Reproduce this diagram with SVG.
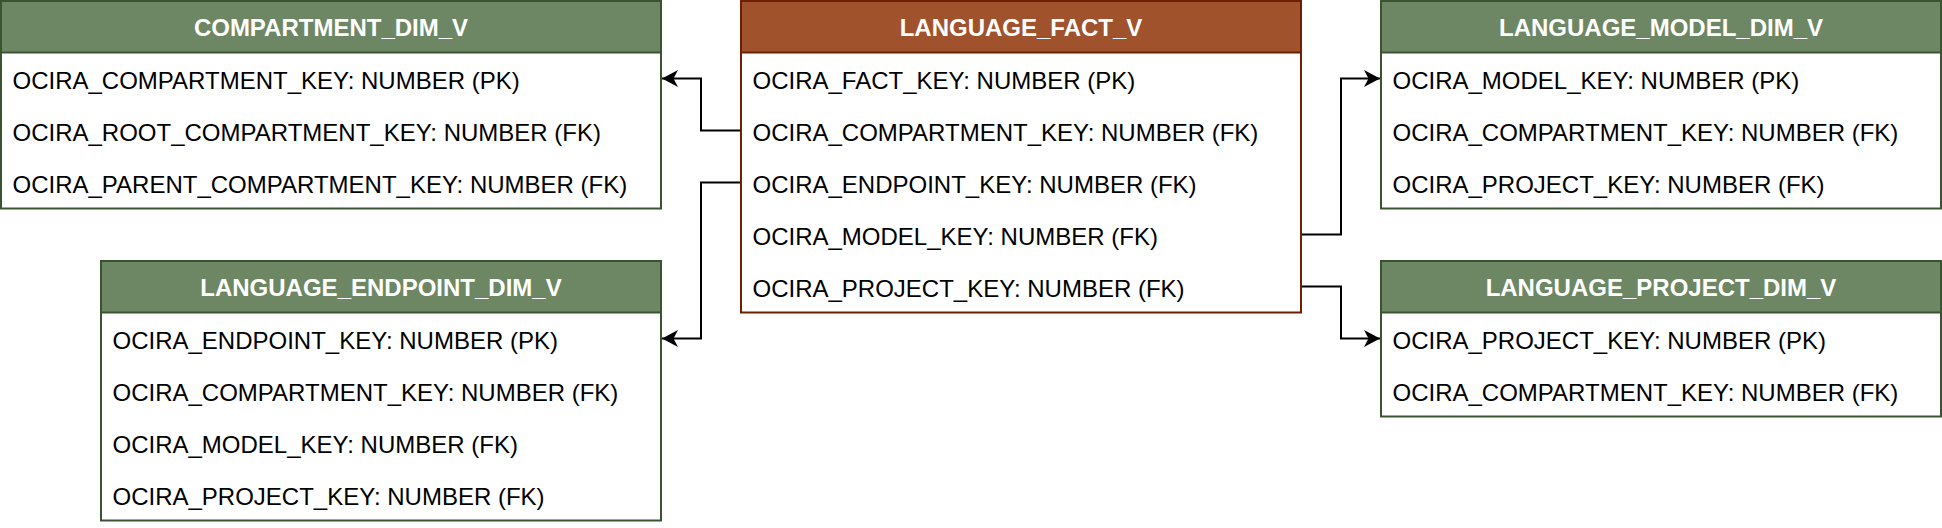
<svg xmlns="http://www.w3.org/2000/svg" width="1942" height="528" viewBox="0 0 1942 528">
<style>
.box{fill:#ffffff;stroke-width:2}
.g{stroke:#3A5431}
.gh{fill:#6d8764;stroke:#3A5431;stroke-width:2}
.b{stroke:#6D1F00}
.bh{fill:#a0522d;stroke:#6D1F00;stroke-width:2}
.t{font-family:"Liberation Sans",Arial,sans-serif;font-size:24px;fill:#000000}
.h{font-family:"Liberation Sans",Arial,sans-serif;font-size:24px;font-weight:bold;fill:#ffffff;text-anchor:middle}
.c{fill:none;stroke:#000000;stroke-width:2;marker-end:url(#arr)}
</style>
<defs>
<marker id="arr" markerUnits="userSpaceOnUse" markerWidth="20" markerHeight="20" refX="16" refY="9" orient="auto">
<path d="M0,0.5 L16,9 L0,17.5 L4.5,9 Z" fill="#000000"/>
</marker>
</defs>
<rect width="1942" height="528" fill="#ffffff"/>
<g id="connectors">
<path class="c" d="M741,130.5 H701 V78.5 H662"/>
<path class="c" d="M741,182.5 H701 V338.5 H662"/>
<path class="c" d="M1301,234.5 H1341 V78.5 H1380"/>
<path class="c" d="M1301,286.5 H1341 V338.5 H1380"/>
</g>
<g id="compartment_dim_v">
<rect class="box g" x="1" y="1" width="660" height="207.5"/>
<rect class="gh" x="1" y="1" width="660" height="51.5"/>
<text class="h" x="331" y="36">COMPARTMENT_DIM_V</text>
<text class="t" x="12.5" y="88.5">OCIRA_COMPARTMENT_KEY: NUMBER (PK)</text>
<text class="t" x="12.5" y="140.5">OCIRA_ROOT_COMPARTMENT_KEY: NUMBER (FK)</text>
<text class="t" x="12.5" y="192.5">OCIRA_PARENT_COMPARTMENT_KEY: NUMBER (FK)</text>
</g>
<g id="language_fact_v">
<rect class="box b" x="741" y="1" width="560" height="311.5"/>
<rect class="bh" x="741" y="1" width="560" height="51.5"/>
<text class="h" x="1021" y="36">LANGUAGE_FACT_V</text>
<text class="t" x="752.5" y="88.5">OCIRA_FACT_KEY: NUMBER (PK)</text>
<text class="t" x="752.5" y="140.5">OCIRA_COMPARTMENT_KEY: NUMBER (FK)</text>
<text class="t" x="752.5" y="192.5">OCIRA_ENDPOINT_KEY: NUMBER (FK)</text>
<text class="t" x="752.5" y="244.5">OCIRA_MODEL_KEY: NUMBER (FK)</text>
<text class="t" x="752.5" y="296.5">OCIRA_PROJECT_KEY: NUMBER (FK)</text>
</g>
<g id="language_model_dim_v">
<rect class="box g" x="1381" y="1" width="560" height="207.5"/>
<rect class="gh" x="1381" y="1" width="560" height="51.5"/>
<text class="h" x="1661" y="36">LANGUAGE_MODEL_DIM_V</text>
<text class="t" x="1392.5" y="88.5">OCIRA_MODEL_KEY: NUMBER (PK)</text>
<text class="t" x="1392.5" y="140.5">OCIRA_COMPARTMENT_KEY: NUMBER (FK)</text>
<text class="t" x="1392.5" y="192.5">OCIRA_PROJECT_KEY: NUMBER (FK)</text>
</g>
<g id="language_endpoint_dim_v">
<rect class="box g" x="101" y="261" width="560" height="259.5"/>
<rect class="gh" x="101" y="261" width="560" height="51.5"/>
<text class="h" x="381" y="296">LANGUAGE_ENDPOINT_DIM_V</text>
<text class="t" x="112.5" y="348.5">OCIRA_ENDPOINT_KEY: NUMBER (PK)</text>
<text class="t" x="112.5" y="400.5">OCIRA_COMPARTMENT_KEY: NUMBER (FK)</text>
<text class="t" x="112.5" y="452.5">OCIRA_MODEL_KEY: NUMBER (FK)</text>
<text class="t" x="112.5" y="504.5">OCIRA_PROJECT_KEY: NUMBER (FK)</text>
</g>
<g id="language_project_dim_v">
<rect class="box g" x="1381" y="261" width="560" height="155.5"/>
<rect class="gh" x="1381" y="261" width="560" height="51.5"/>
<text class="h" x="1661" y="296">LANGUAGE_PROJECT_DIM_V</text>
<text class="t" x="1392.5" y="348.5">OCIRA_PROJECT_KEY: NUMBER (PK)</text>
<text class="t" x="1392.5" y="400.5">OCIRA_COMPARTMENT_KEY: NUMBER (FK)</text>
</g>
</svg>
